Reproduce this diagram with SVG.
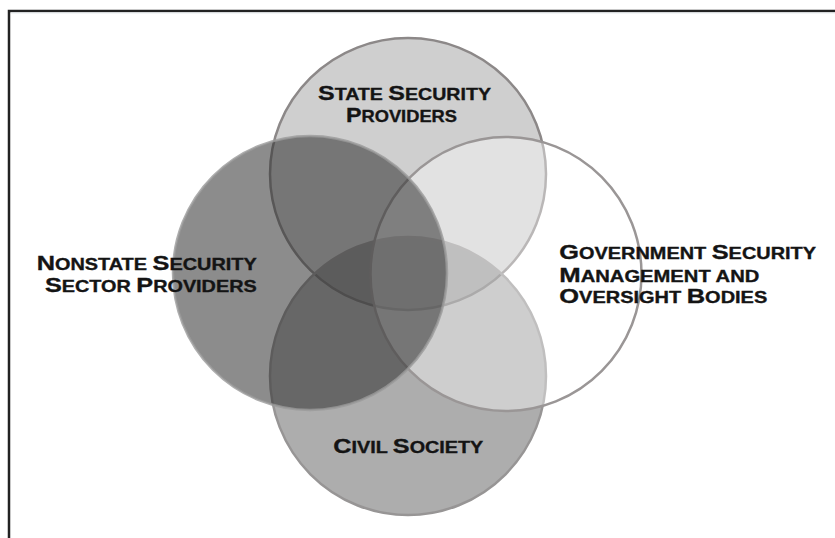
<svg xmlns="http://www.w3.org/2000/svg" width="835" height="538" viewBox="0 0 835 538">
  <style>
    .lbl { font-family: "Liberation Sans", Arial, sans-serif; font-weight: bold; fill: #141414; stroke: #141414; stroke-width: 0.35; }
    .cap { font-size: 21px; }
    .sm { font-size: 16.5px; }
    .ring { stroke-width: 2.5; }
  </style>
  <rect x="0" y="0" width="835" height="538" fill="#ffffff"/>
  <path d="M9,540 V11 H837" fill="none" stroke="#222222" stroke-width="2.5"/>
  <path d="M11,13 H835" fill="none" stroke="#e6ebee" stroke-width="1"/>

  <g id="connectors"/>

  <g id="state-security-providers">
    <ellipse class="ring" cx="408" cy="174" rx="138" ry="136" fill="#cfcfcf" stroke="#8c8888"/>
    <text class="lbl" x="318" y="100" textLength="173" lengthAdjust="spacingAndGlyphs"><tspan class="cap">S</tspan><tspan class="sm">TATE </tspan><tspan class="cap">S</tspan><tspan class="sm">ECURITY</tspan></text>
    <text class="lbl" x="346" y="121.7" textLength="111" lengthAdjust="spacingAndGlyphs"><tspan class="cap">P</tspan><tspan class="sm">ROVIDERS</tspan></text>
  </g>

  <g id="civil-society">
    <ellipse class="ring" cx="408" cy="376" rx="138" ry="139" fill="#5b5b5b" fill-opacity="0.5" stroke="#979595"/>
    <text class="lbl" x="333.3" y="453.3" textLength="150" lengthAdjust="spacingAndGlyphs"><tspan class="cap">C</tspan><tspan class="sm">IVIL </tspan><tspan class="cap">S</tspan><tspan class="sm">OCIETY</tspan></text>
  </g>

  <g id="government-security-management">
    <ellipse class="ring" cx="506" cy="274" rx="135.5" ry="137" fill="#ffffff" fill-opacity="0.4" stroke="#9a9696"/>
    <text class="lbl" x="559.3" y="259.3" textLength="256.7" lengthAdjust="spacingAndGlyphs"><tspan class="cap">G</tspan><tspan class="sm">OVERNMENT </tspan><tspan class="cap">S</tspan><tspan class="sm">ECURITY</tspan></text>
    <text class="lbl" x="559.3" y="281.7" textLength="200" lengthAdjust="spacingAndGlyphs"><tspan class="cap">M</tspan><tspan class="sm">ANAGEMENT AND</tspan></text>
    <text class="lbl" x="559.3" y="303.3" textLength="208" lengthAdjust="spacingAndGlyphs"><tspan class="cap">O</tspan><tspan class="sm">VERSIGHT </tspan><tspan class="cap">B</tspan><tspan class="sm">ODIES</tspan></text>
  </g>

  <g id="nonstate-security-sector-providers">
    <ellipse class="ring" cx="310" cy="273" rx="137" ry="137" fill="#2f2f2f" fill-opacity="0.553" stroke="#9a9a9a" stroke-opacity="0.8"/>
    <text class="lbl" x="36.7" y="270" textLength="220" lengthAdjust="spacingAndGlyphs"><tspan class="cap">N</tspan><tspan class="sm">ONSTATE </tspan><tspan class="cap">S</tspan><tspan class="sm">ECURITY</tspan></text>
    <text class="lbl" x="45" y="291.7" textLength="211.7" lengthAdjust="spacingAndGlyphs"><tspan class="cap">S</tspan><tspan class="sm">ECTOR </tspan><tspan class="cap">P</tspan><tspan class="sm">ROVIDERS</tspan></text>
  </g>
</svg>
